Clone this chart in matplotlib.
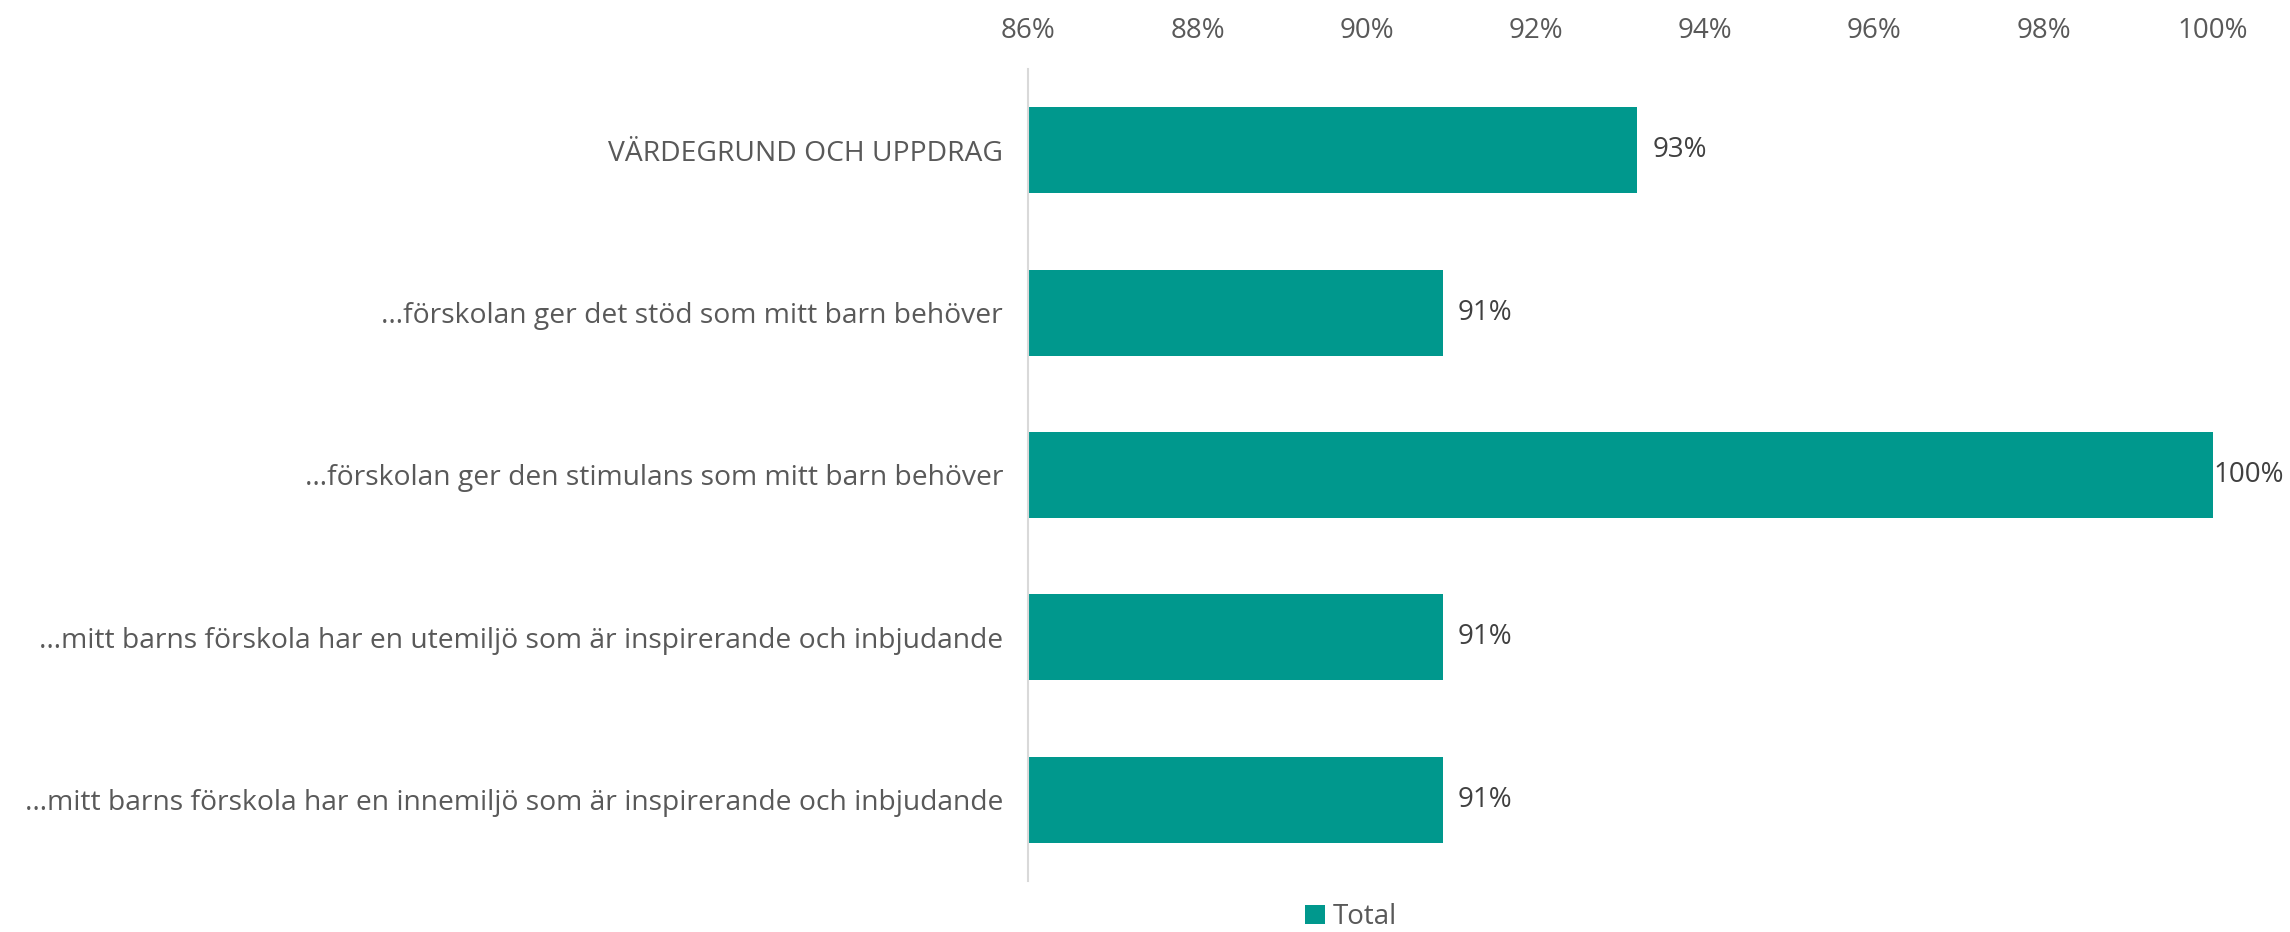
import matplotlib.pyplot as plt
from matplotlib.ticker import FuncFormatter

categories = [
    "VÄRDEGRUND OCH UPPDRAG",
    "…förskolan ger det stöd som mitt barn behöver",
    "…förskolan ger den stimulans som mitt barn behöver",
    "…mitt barns förskola har en utemiljö som är inspirerande och inbjudande",
    "…mitt barns förskola har en innemiljö som är inspirerande och inbjudande",
]
values = [93.2, 90.9, 100.0, 90.9, 90.9]
value_labels = ["93%", "91%", "100%", "91%", "91%"]
series_name = "Total"

plt.rcParams['font.family'] = ['Open Sans', 'DejaVu Sans']
text_color = '#595959'
bar_color = '#00988D'

fig = plt.figure(figsize=(22.9, 9.32), dpi=100)
ax = fig.add_axes([0.449, 0.0547, 0.5173, 0.8713])

y = list(range(len(categories)))
ax.barh(y, values, height=0.53, left=0, color=bar_color, label=series_name)
ax.set_xlim(86, 100)
ax.set_ylim(len(categories) - 0.5, -0.5)

# etiketter vid staplarnas ände
for yi, v, lab in zip(y, values, value_labels):
    off = 1 if v >= 100 else 15
    ax.annotate(lab, (v, yi), xytext=(off, 0), textcoords='offset pixels',
                va='center', ha='left', fontsize=20, color='#404040',
                annotation_clip=False)

ax.set_yticks(y)
ax.set_yticklabels(categories, fontsize=20.3, color=text_color)
ax.xaxis.tick_top()
ax.set_xticks(range(86, 101, 2))
ax.xaxis.set_major_formatter(FuncFormatter(lambda x, p: f"{x:.0f}%"))
ax.tick_params(axis='x', length=0, pad=17, labelsize=20, labelcolor=text_color)
ax.tick_params(axis='y', length=0, pad=18)

for s in ['top', 'right', 'bottom']:
    ax.spines[s].set_visible(False)
ax.spines['left'].set_color('#D9D9D9')
ax.spines['left'].set_linewidth(1.5)

leg = fig.legend(loc='center', bbox_to_anchor=(0.59, 0.016), frameon=False,
                 fontsize=20, handlelength=0.7, handleheight=0.7, handletextpad=0.3,
                 borderpad=0.1)
for t in leg.get_texts():
    t.set_color(text_color)

fig.savefig('out.png', dpi=100)
